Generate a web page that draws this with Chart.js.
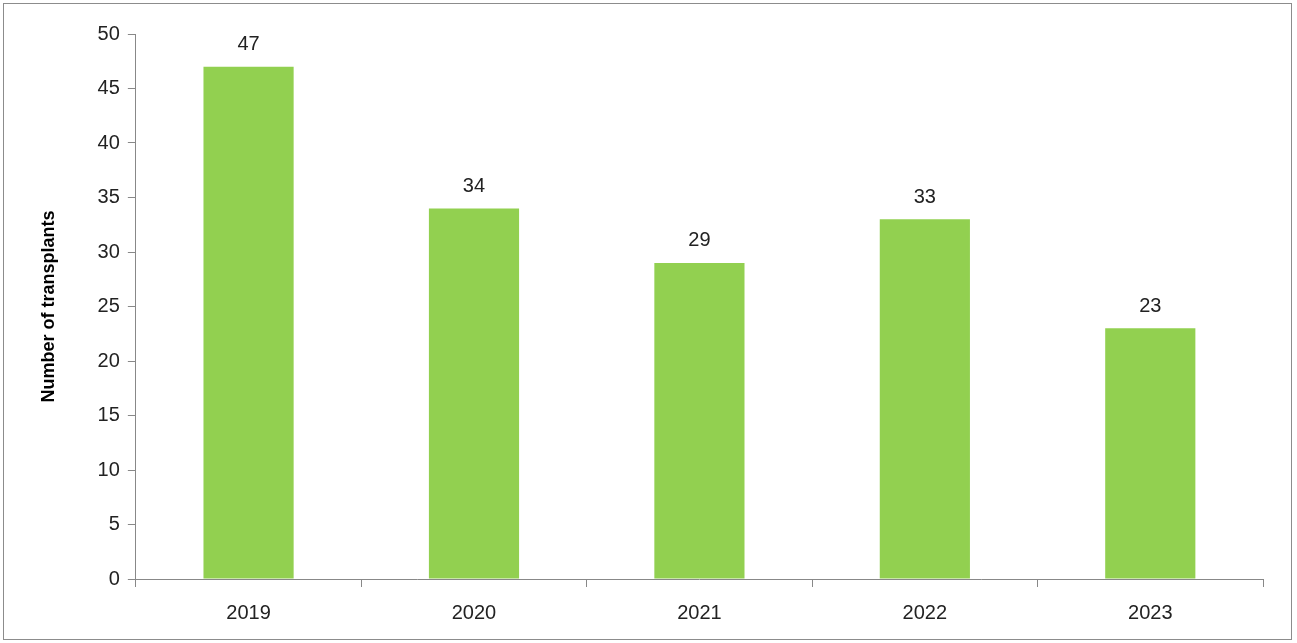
<!DOCTYPE html>
<html>
<head>
<meta charset="UTF-8">
<script src="https://cdn.jsdelivr.net/npm/chart.js"></script>
<style>
  body { margin: 0; background: #fff; }
  .frame { position: absolute; left: 3px; top: 3px; width: 1287px; height: 635px; border: 1px solid #8c8c8c; }
  canvas { position: absolute; left: 0; top: 0; }
</style>
</head>
<body>
<div class="frame"></div>
<canvas id="chart" width="1297" height="643"></canvas>
<script>
const years = ['2019', '2020', '2021', '2022', '2023'];
const transplants = [47, 34, 29, 33, 23];

const valueLabels = {
  id: 'valueLabels',
  afterDatasetsDraw(chart) {
    const ctx = chart.ctx;
    const meta = chart.getDatasetMeta(0);
    ctx.save();
    ctx.font = '20px "Liberation Sans", Arial, sans-serif';
    ctx.fillStyle = '#222';
    ctx.textAlign = 'center';
    ctx.textBaseline = 'bottom';
    meta.data.forEach((bar, i) => {
      ctx.fillText(transplants[i], bar.x, bar.y - 12);
    });
    ctx.restore();
  }
};

new Chart(document.getElementById('chart'), {
  type: 'bar',
  data: {
    labels: years,
    datasets: [{
      data: transplants,
      backgroundColor: '#92d050',
      barPercentage: 0.4,
      categoryPercentage: 1.0
    }]
  },
  options: {
    responsive: false,
    animation: false,
    layout: { padding: { left: 38, top: 34, right: 34, bottom: 4 } },
    plugins: { legend: { display: false }, tooltip: { enabled: false } },
    scales: {
      y: {
        min: 0, max: 50,
        ticks: { stepSize: 5, color: '#222', padding: 8, font: { size: 20, family: '"Liberation Sans", Arial, sans-serif' } },
        grid: { display: true, drawOnChartArea: false, tickLength: 8, color: '#888' },
        border: { color: '#888', width: 1 },
        title: { display: true, text: 'Number of transplants', color: '#000', padding: { top: 0, bottom: 30 }, font: { size: 18, weight: 'bold', family: '"Liberation Sans", Arial, sans-serif' } }
      },
      x: {
        ticks: { color: '#222', padding: 14, font: { size: 20, family: '"Liberation Sans", Arial, sans-serif' } },
        grid: { display: true, offset: true, drawOnChartArea: false, tickLength: 8, color: '#888' },
        border: { color: '#888', width: 1 }
      }
    }
  },
  plugins: [valueLabels]
});
</script>
</body>
</html>
